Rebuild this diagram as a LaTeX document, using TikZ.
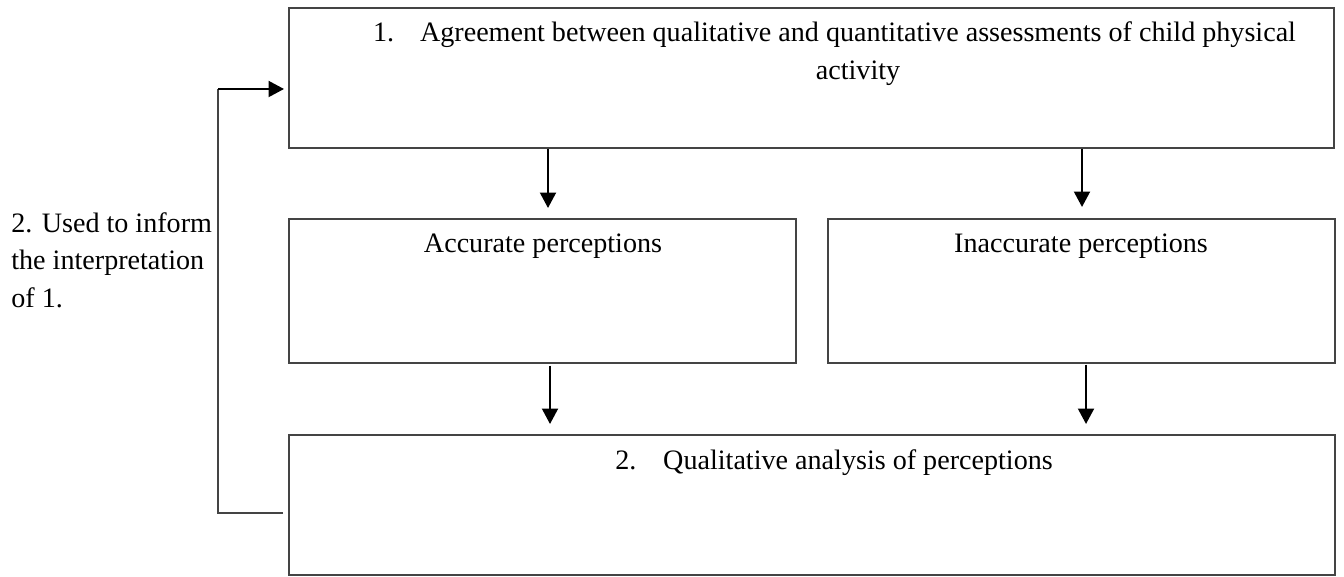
\documentclass[tikz,border=0pt]{standalone}
\usepackage{fontspec}
\setmainfont{Liberation Serif}
\usepackage{xcolor}
\usetikzlibrary{arrows.meta}
\definecolor{boxline}{HTML}{444444}

\begin{document}
\begin{tikzpicture}[x=0.02cm, y=-0.02cm,
    >={Triangle[length=0.31cm, width=0.32cm]},
    box/.style = {rectangle, draw = boxline, line width = 0.8pt, inner sep = 0pt},
    flow/.style = {->, line width = 1.2pt, black},
    loopline/.style = {line width = 0.8pt, boxline},
    txt/.style = {inner sep = 0pt, font = \fontsize{16}{21.3}\selectfont}
    ]

    \useasboundingbox (0,0) rectangle (1344,577);

    \node[box,
          minimum width = 20.9cm,
          minimum height = 2.8cm
          ] (agree) at (811.5,78) {};
    \node[txt, align = center] at (858,53.5)
        {\llap{\makebox[0.94cm][l]{1.}}Agreement between qualitative and quantitative assessments of child physical\\activity};

    \node[box,
          minimum width = 10.14cm,
          minimum height = 2.88cm
          ] (acc) at (542.5,291) {};
    \node[txt] at (543,246) {Accurate perceptions};

    \node[box,
          minimum width = 10.14cm,
          minimum height = 2.88cm
          ] (inacc) at (1081.5,291) {};
    \node[txt] at (1081,246) {Inaccurate perceptions};

    \node[box,
          minimum width = 20.92cm,
          minimum height = 2.8cm
          ] (quali) at (812,505) {};
    \node[txt] at (858,463)
        {\llap{\makebox[0.96cm][l]{2.}}Qualitative analysis of perceptions};

    \node[txt, align = left, anchor = west] (used) at (11,260)
        {2. Used to inform\\the interpretation\\of 1.};

    % arrow ends
    \coordinate (accin) at (548,208);
    \coordinate (inaccin) at (1082,207);
    \coordinate (qualiL) at (550,424);
    \coordinate (qualiR) at (1086,424);
    \coordinate (fbstart) at (283,513);
    \coordinate (fbend) at (284,89);

    \draw[flow] (agree.south -| accin) -- (accin);
    \draw[flow] (agree.south -| inaccin) -- (inaccin);
    \draw[flow] ([yshift=-0.04cm]acc.south -| qualiL) -- (qualiL);
    \draw[flow] ([yshift=-0.02cm]inacc.south -| qualiR) -- (qualiR);

    % feedback loop
    \draw[loopline] (fbstart) -- ++(-65,0) coordinate (fbcorner) -- (fbcorner |- fbend);
    \draw[flow] (fbcorner |- fbend) -- (fbend);

\end{tikzpicture}
\end{document}
